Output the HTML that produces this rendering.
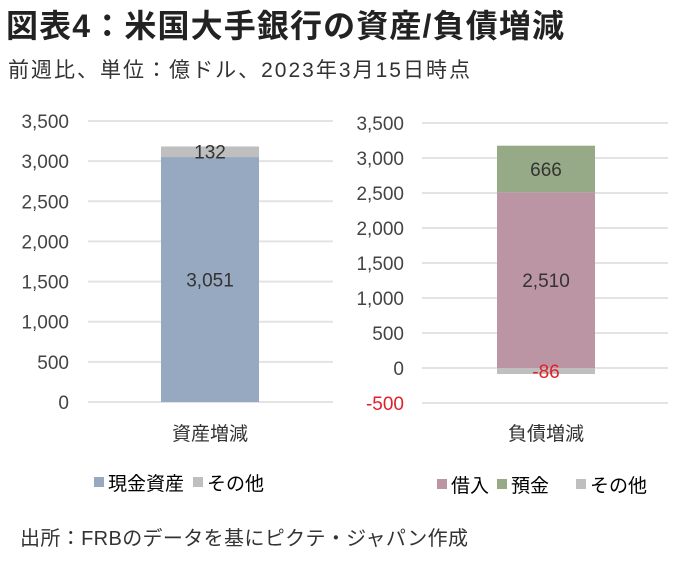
<!DOCTYPE html>
<html><head><meta charset="utf-8"><style>
body{margin:0;width:680px;height:566px;background:#fff;overflow:hidden;font-family:"Liberation Sans","Noto Sans CJK JP",sans-serif;color:#333}
svg text{font-family:"Liberation Sans","Noto Sans CJK JP",sans-serif}
</style></head><body>
<svg width="680" height="566">
<text x="6" y="37" font-size="32" font-weight="bold" fill="#222" textLength="558">図表4：米国大手銀行の資産/負債増減</text>
<text x="8" y="77" font-size="21" fill="#333" textLength="462">前週比、単位：億ドル、2023年3月15日時点</text>
<g id="left"></g>
<g id="right"></g>
<g>
<rect x="94" y="477" width="10" height="10" fill="#97a9c0"/><text x="108" y="490" font-size="19">現金資産</text>
<rect x="193" y="477" width="10" height="10" fill="#bfbfbf"/><text x="207" y="490" font-size="19">その他</text>
</g>
<g>
<rect x="437" y="479" width="10" height="10" fill="#bc95a4"/><text x="451" y="492" font-size="19">借入</text>
<rect x="497" y="479" width="10" height="10" fill="#97aa88"/><text x="511" y="492" font-size="19">預金</text>
<rect x="576" y="479" width="10" height="10" fill="#bfbfbf"/><text x="590" y="492" font-size="19">その他</text>
</g>
<text x="20" y="545" font-size="20" fill="#333" textLength="448">出所：FRBのデータを基にピクテ・ジャパン作成</text>
</svg>
<script>
const leftTicks=[0,500,1000,1500,2000,2500,3000,3500];
const leftCategory=["資産増減"];
const leftSeries=["現金資産","その他"];
const leftValues=[3051,132];
const rightTicks=[-500,0,500,1000,1500,2000,2500,3000,3500];
const rightCategory=["負債増減"];
const rightSeries=["借入","預金","その他"];
const rightValues=[2510,666,-86];
const NS="http://www.w3.org/2000/svg";
function mk(p,t,a,txt){const e=document.createElementNS(NS,t);for(const k in a)e.setAttribute(k,a[k]);if(txt!=null)e.textContent=txt;p.appendChild(e);return e;}
function fmt(v){return v<0?"-"+Math.abs(v).toLocaleString("en-US"):v.toLocaleString("en-US");}
function draw(g,ticks,cat,series,values,colors,gx0,gx1,bx0,bx1,yTop,yZero,labx){
  const y=v=>yZero-(v/3500)*(yZero-yTop);
  ticks.forEach(t=>{
    const l=mk(g,"line",{x1:gx0,x2:gx1,y1:y(t),y2:y(t),stroke:"#e3e3e3","stroke-width":2});
    
    
    const tx=mk(g,"text",{x:labx,y:y(t)+7,"text-anchor":"end","font-size":19,fill:t<0?"#e0202a":"#444"},fmt(t));
    
    
  });
  let pos=0,neg=0;
  values.forEach((v,i)=>{
    let a,b;
    if(v>=0){a=pos;b=pos+v;pos=b;}else{a=neg;b=neg+v;neg=b;}
    const top=y(Math.max(a,b)),bot=y(Math.min(a,b));
    const r=mk(g,"rect",{x:bx0,y:top,width:bx1-bx0,height:bot-top,fill:colors[i]});
    
    
    const mid=(top+bot)/2;
    const tx=mk(g,"text",{x:(bx0+bx1)/2,y:mid+7,"text-anchor":"middle","font-size":19,fill:v<0?"#e0202a":"#333"},fmt(v));
    
    
  });
  const c=mk(g,"text",{x:(bx0+bx1)/2,y:440,"text-anchor":"middle","font-size":19,fill:"#333"},cat[0]);
  
  
}
draw(document.getElementById("left"),leftTicks,leftCategory,leftSeries,leftValues,["#97a9c0","#bfbfbf"],88,333,161,259,121,402,69);
draw(document.getElementById("right"),rightTicks,rightCategory,rightSeries,rightValues,["#bc95a4","#97aa88","#bfbfbf"],422,668,497,595,123,368,404);
</script>
</body></html>
